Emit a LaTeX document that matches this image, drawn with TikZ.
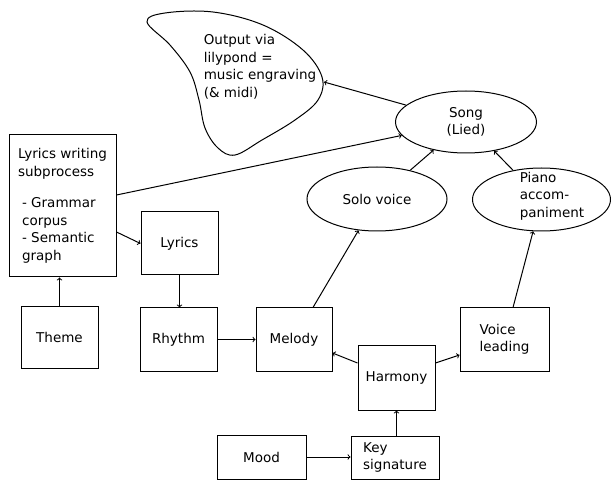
\documentclass[tikz,border=0pt]{standalone}
\usepackage{fontspec}
\setmainfont{DejaVu Sans}
\usetikzlibrary{shapes.geometric}

\tikzset{
  every node/.style={font=\fontsize{13.5}{17.5}\selectfont},
  box/.style={draw, line width=1pt, align=left, inner sep=0pt},
  oval/.style={draw, ellipse, line width=1pt, inner sep=0pt},
  link/.style={->, line width=1pt},
}

\begin{document}
\begin{tikzpicture}[x=1pt,y=-1pt]
\useasboundingbox (0,0) rectangle (611,481);

% output cloud
\draw[line width=1pt] plot[smooth cycle, tension=0.6] coordinates {
  (147,22) (165,13) (213,12) (263,25) (303,50) (322,77) (318,100)
  (295,120) (262,140) (235,155) (218,148) (205,128) (199,100)
  (190,72) (170,45)};
\node[align=left] (outtxt) at (260,67) {Output via\\lilypond =\\music engraving\\(\& midi)};
\coordinate (outtip) at (324,82);

% boxes
\node[box, minimum width=107pt, minimum height=142pt] (lws) at (62.5,206)
  {Lyrics writing\\subprocess\\[14pt]\kern4pt- Grammar\\\kern4pt corpus\\\kern4pt- Semantic\\\kern4pt graph};
\node[box, minimum width=77pt, minimum height=63pt] (lyrics) at (179.5,243.5) {Lyrics};
\node[box, minimum width=77pt, minimum height=61pt] (theme) at (59.5,337.5) {Theme};
\node[box, minimum width=77pt, minimum height=63pt] (rhythm) at (178.5,339.5) {Rhythm};
\node[box, minimum width=76pt, minimum height=63pt] (melody) at (294,339.5) {Melody};
\node[box, minimum width=77pt, minimum height=64pt] (harmony) at (396.5,378) {Harmony};
\node[box, minimum width=89pt, minimum height=63pt] (voice) at (504.5,339.5) {Voice\\leading};
\node[box, minimum width=89pt, minimum height=44pt] (mood) at (261.5,457) {Mood};
\node[box, minimum width=88pt, minimum height=43pt] (key) at (395,457.5) {Key\\signature};

% ellipses
\node[oval, minimum width=141pt, minimum height=62pt, align=center] (song) at (466,122) {Song\\(Lied)};
\node[oval, minimum width=140pt, minimum height=64pt] (solo) at (377,199) {Solo voice};
\node[oval, minimum width=138pt, minimum height=63pt] (piano) at (541.5,199.5) {};
\node[align=left] (pianotxt) at (552,196) {Piano\\accom-\\paniment};

% connectors
\draw[link] (theme.north) -- (theme.north |- lws.south);
\draw[link] ([yshift=-26pt]lws.east) -- (lyrics.west);
\draw[link] ([yshift=11pt]lws.east) -- (song);
\draw[link] (lyrics.south) -- (lyrics.south |- rhythm.north);
\draw[link] (rhythm.east) -- (melody.west);
\draw[link] ([xshift=19pt]melody.north) -- (solo);
\draw[link] ([yshift=15pt]harmony.west) -- ([yshift=-13.5pt]melody.east);
\draw[link] ([yshift=15pt]harmony.east) -- ([yshift=-15.5pt]voice.west);
\draw[link] (key.north -| harmony.south) -- (harmony.south);
\draw[link] (mood.east) -- (mood.east -| key.west);
\draw[link] ([xshift=8.5pt]voice.north) -- (piano);
\draw[link] (solo) -- (song);
\draw[link] (piano) -- (song);
\draw[link] (song) -- (outtip);
\end{tikzpicture}
\end{document}
